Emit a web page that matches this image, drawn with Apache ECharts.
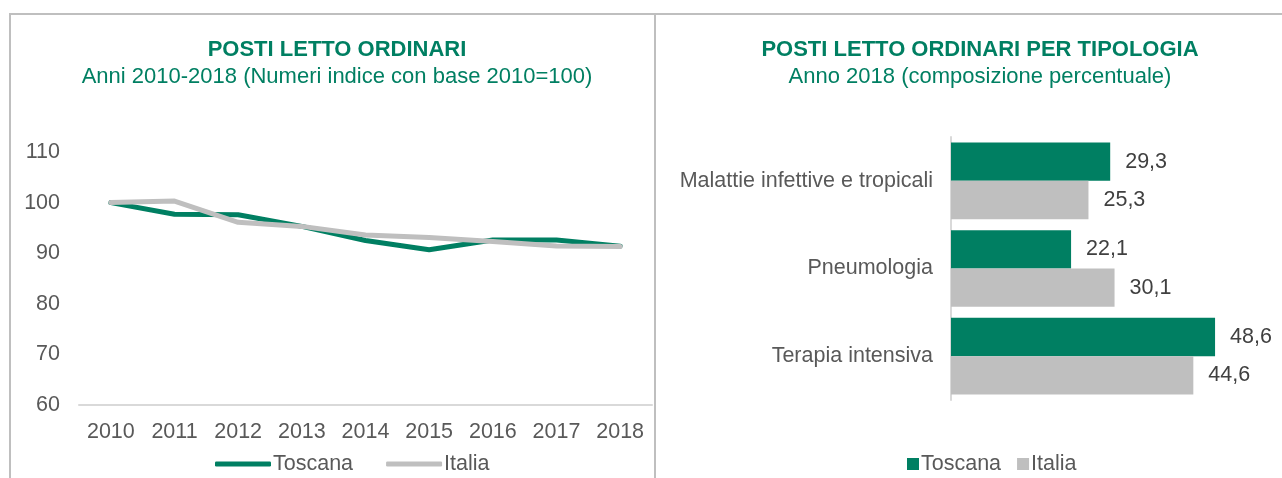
<!DOCTYPE html>
<html>
<head>
<meta charset="utf-8">
<script src="https://cdn.jsdelivr.net/npm/echarts@6/dist/echarts.min.js"></script>
<style>
  html, body { margin: 0; padding: 0; background: #fff; }
  #chart { width: 1282px; height: 478px; }
</style>
</head>
<body>
<div id="chart"></div>
<script>
// dati serie storica (numeri indice 2010=100)
var anni = ['2010', '2011', '2012', '2013', '2014', '2015', '2016', '2017', '2018'];
var toscanaIndice = [100, 97.7, 97.6, 95.3, 92.5, 90.7, 92.6, 92.6, 91.4];
var italiaIndice = [100, 100.3, 96.1, 95.3, 93.6, 93.1, 92.3, 91.4, 91.3];
var tickY = [60, 70, 80, 90, 100, 110];

// composizione percentuale 2018
var tipologie = ['Malattie infettive e tropicali', 'Pneumologia', 'Terapia intensiva'];
var toscanaTipo = [29.3, 22.1, 48.6];
var italiaTipo = [25.3, 30.1, 44.6];

var verde = '#007F62';
var grigio = '#BFBFBF';
var fontN = '"Liberation Sans", Arial, sans-serif';
var fs = 21.5;

var chart = echarts.init(document.getElementById('chart'));

function virgola(v) {
    return String(v).replace('.', ',');
}

var option = {
    animation: false,
    textStyle: { fontFamily: fontN },
    title: [
        {
            text: 'POSTI LETTO ORDINARI',
            subtext: 'Anni 2010-2018 (Numeri indice con base 2010=100)',
            left: 332, top: 34, textAlign: 'center', itemGap: 5,
            textStyle: { fontSize: 22, fontWeight: 'bold', color: verde },
            subtextStyle: { fontSize: 22, color: verde }
        },
        {
            text: 'POSTI LETTO ORDINARI PER TIPOLOGIA',
            subtext: 'Anno 2018 (composizione percentuale)',
            left: 975, top: 34, textAlign: 'center', itemGap: 5,
            textStyle: { fontSize: 22, fontWeight: 'bold', color: verde },
            subtextStyle: { fontSize: 22, color: verde }
        }
    ],
    legend: [
        {
            data: ['Toscana', 'Italia'],
            left: 210, top: 448,
            icon: 'roundRect', itemWidth: 56, itemHeight: 5, itemGap: 33,
            textStyle: { fontSize: fs, color: '#595959', padding: [0, 0, 0, -3] }
        },
        {
            data: ['Toscana ', 'Italia '],
            left: 902, top: 448,
            icon: 'rect', itemWidth: 12, itemHeight: 12, itemGap: 10,
            textStyle: { fontSize: fs, color: '#595959', padding: [0, 0, 0, -3] }
        }
    ],
    grid: [
        { left: 79, right: 630, top: 152, height: 253 },
        { left: 951, right: 5, top: 137, bottom: 78 }
    ],
    xAxis: [
        {
            gridIndex: 0, type: 'category', data: anni,
            axisLine: { lineStyle: { color: '#D9D9D9', width: 2 } },
            axisTick: { show: false },
            axisLabel: { fontSize: fs, color: '#595959', margin: 16 }
        },
        {
            gridIndex: 1, type: 'value', min: 0, max: 60,
            axisLine: { show: false }, axisTick: { show: false },
            axisLabel: { show: false }, splitLine: { show: false }
        }
    ],
    yAxis: [
        {
            gridIndex: 0, type: 'value', min: tickY[0], max: tickY[tickY.length - 1], interval: 10,
            axisLine: { show: false }, axisTick: { show: false },
            splitLine: { show: false },
            axisLabel: { fontSize: fs, color: '#595959', margin: 19 }
        },
        {
            gridIndex: 1, type: 'category', data: tipologie, inverse: true,
            axisLine: { lineStyle: { color: '#D9D9D9', width: 2 } },
            axisTick: { show: false },
            axisLabel: { fontSize: fs, color: '#595959', margin: 18 }
        }
    ],
    series: [
        {
            name: 'Toscana', type: 'line', xAxisIndex: 0, yAxisIndex: 0,
            data: toscanaIndice, symbol: 'none', z: 2,
            lineStyle: { color: verde, width: 5, cap: 'round', join: 'round' },
            itemStyle: { color: verde }
        },
        {
            name: 'Italia', type: 'line', xAxisIndex: 0, yAxisIndex: 0,
            data: italiaIndice, symbol: 'none', z: 3,
            lineStyle: { color: grigio, width: 5, cap: 'round', join: 'round' },
            itemStyle: { color: grigio }
        },
        {
            name: 'Toscana ', type: 'bar', xAxisIndex: 1, yAxisIndex: 1,
            data: toscanaTipo, barGap: '0%', barCategoryGap: '12.5%',
            itemStyle: { color: verde },
            label: { show: true, position: 'right', distance: 15, fontSize: fs, color: '#404040',
                     formatter: function (p) { return virgola(p.value); } }
        },
        {
            name: 'Italia ', type: 'bar', xAxisIndex: 1, yAxisIndex: 1,
            data: italiaTipo, barGap: '0%', barCategoryGap: '12.5%',
            itemStyle: { color: grigio },
            label: { show: true, position: 'right', distance: 15, fontSize: fs, color: '#404040',
                     formatter: function (p) { return virgola(p.value); } }
        }
    ],
    graphic: [
        { type: 'line', shape: { x1: 9, y1: 14, x2: 1282, y2: 14 }, style: { stroke: grigio, lineWidth: 2 } },
        { type: 'line', shape: { x1: 10, y1: 14, x2: 10, y2: 478 }, style: { stroke: grigio, lineWidth: 2 } },
        { type: 'line', shape: { x1: 655, y1: 14, x2: 655, y2: 478 }, style: { stroke: grigio, lineWidth: 2 } }
    ]
};

chart.setOption(option);
</script>
</body>
</html>
